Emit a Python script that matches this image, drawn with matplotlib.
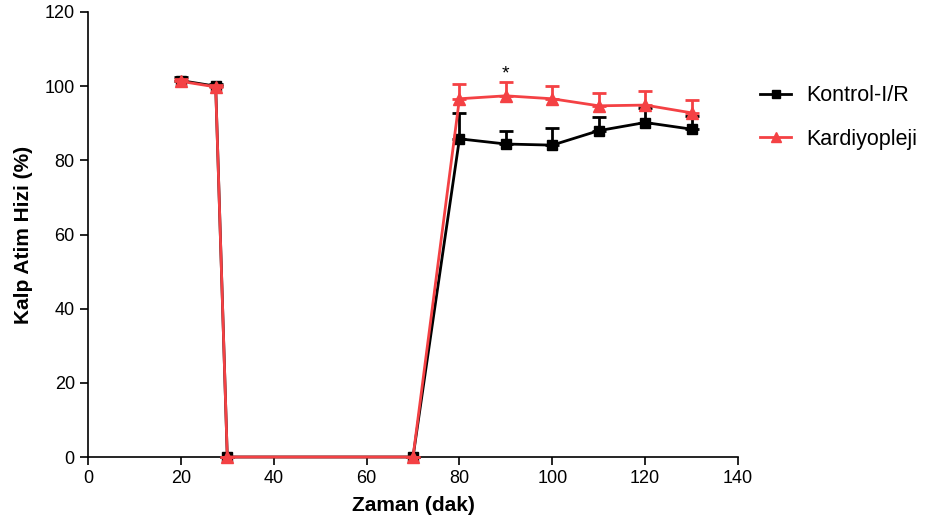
import numpy as np
import matplotlib.pyplot as plt
from matplotlib.lines import Line2D

plt.rcParams['font.family'] = ['Liberation Sans', 'DejaVu Sans']

# veriler
zaman = [20, 27.5, 30, 70, 80, 90, 100, 110, 120, 130]
kontrol = [101.5, 100.0, 0, 0, 85.8, 84.4, 84.1, 88.0, 90.2, 88.4]
kontrol_err = [1.0, 0.5, 0, 0, 7.0, 3.5, 4.5, 3.6, 3.8, 3.6]
kardiyo = [101.3, 99.8, 0, 0, 96.6, 97.4, 96.6, 94.7, 94.9, 92.8]
kardiyo_err = [0.5, 0.5, 0, 0, 4.0, 3.7, 3.4, 3.5, 3.8, 3.5]

xticks = [0, 20, 40, 60, 80, 100, 120, 140]
yticks = [0, 20, 40, 60, 80, 100, 120]

renk_k = 'black'
renk_r = '#f44144'

fig = plt.figure(figsize=(9.25, 5.28), dpi=100)
ax = fig.add_axes([88 / 925, 71 / 528, 650 / 925, 445 / 528])

z = np.zeros(len(zaman))
ax.errorbar(zaman, kontrol, yerr=[z, kontrol_err], color=renk_k, marker='s',
            markersize=7, linewidth=2, capsize=5, capthick=2, elinewidth=2,
            zorder=3, clip_on=False)
ax.errorbar(zaman, kardiyo, yerr=[z, kardiyo_err], color=renk_r, marker='^',
            markersize=8, linewidth=2, capsize=5, capthick=2, elinewidth=2,
            zorder=4, clip_on=False)

# anlamlilik isareti
ax.text(90, kardiyo[5] + kardiyo_err[5], '*', ha='center', va='bottom', fontsize=14)

ax.set_xlim(0, 140)
ax.set_ylim(0, 120)
ax.set_xticks(xticks)
ax.set_yticks(yticks)
ax.spines['top'].set_visible(False)
ax.spines['right'].set_visible(False)
ax.spines['left'].set_linewidth(1.2)
ax.spines['bottom'].set_linewidth(1.2)
ax.tick_params(direction='out', length=6, width=1.2, labelsize=13)

ax.set_xlabel('Zaman (dak)', fontsize=15, fontweight='bold', labelpad=6)
ax.set_ylabel('Kalp Atim Hizi (%)', fontsize=15, fontweight='bold', labelpad=8)

handles = [
    Line2D([], [], color=renk_k, marker='s', markersize=6, linewidth=2),
    Line2D([], [], color=renk_r, marker='^', markersize=7, linewidth=2),
]
ax.legend(handles, ['Kontrol-I/R', 'Kardiyopleji'], loc='upper left',
          bbox_to_anchor=(1.034, 0.835), frameon=False, fontsize=15.5,
          labelspacing=1.05, handlelength=1.45, handletextpad=0.7,
          borderaxespad=0, borderpad=0)

fig.savefig('out.png', dpi=100)
